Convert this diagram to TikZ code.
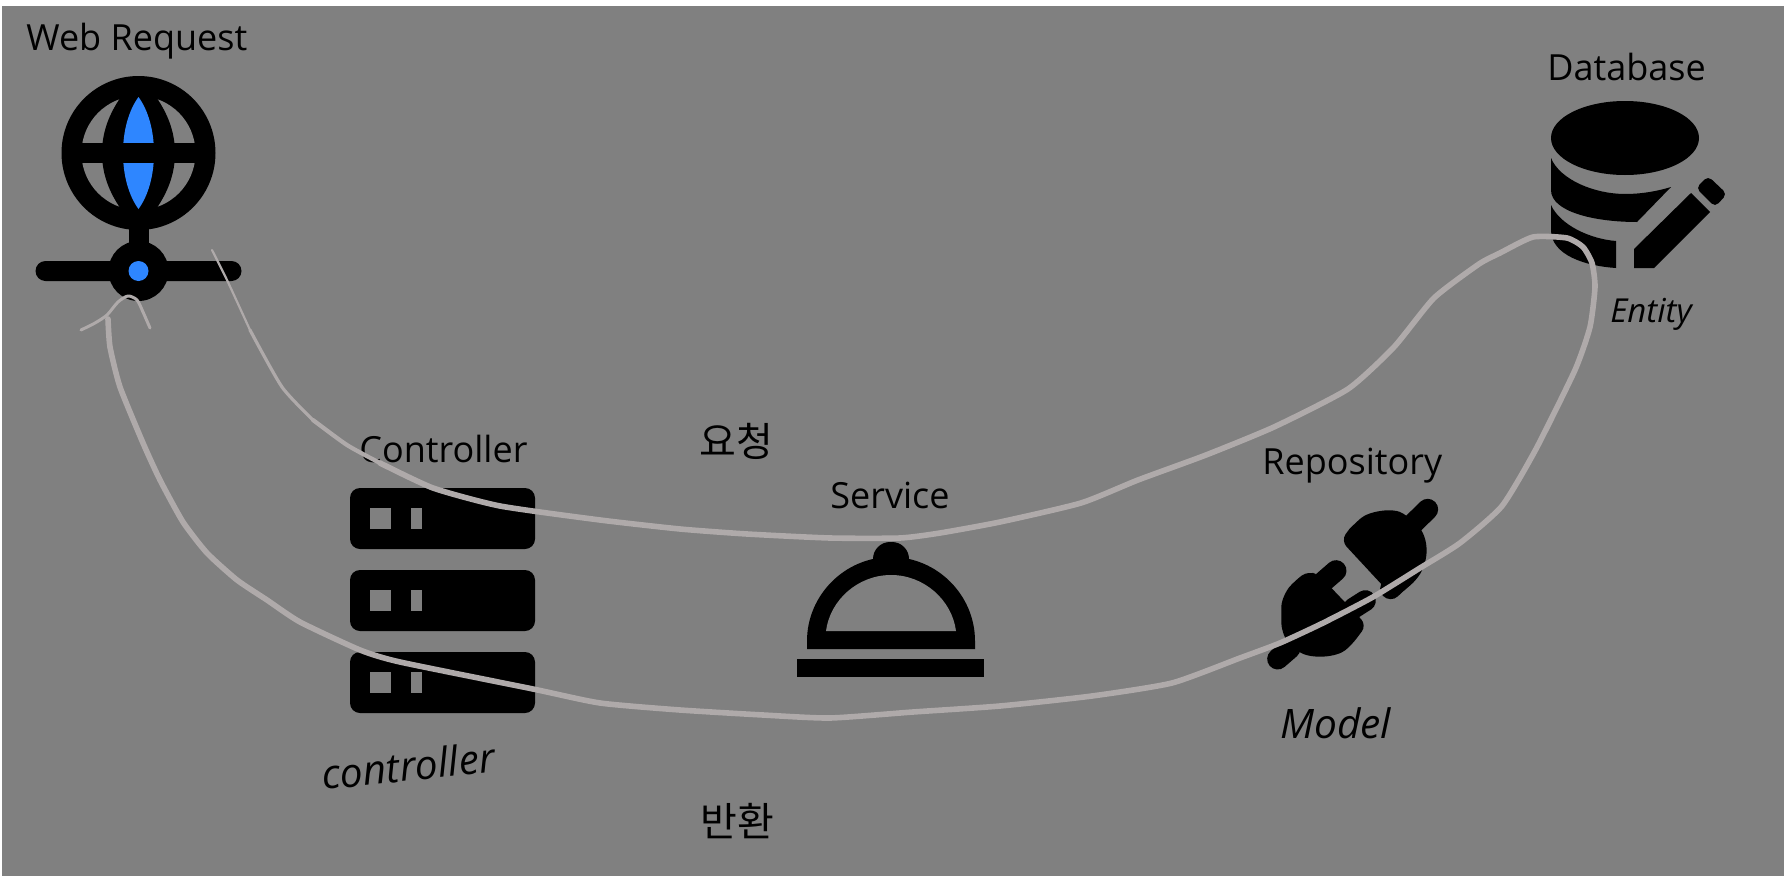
\documentclass[tikz,border=0pt]{standalone}
\usepackage{fontspec}
\setmainfont{Open Sans}
\newfontfamily\krfont{Noto Sans CJK KR}
\tikzset{
 x=0.5pt,y=-0.5pt,
 title/.style={anchor=base west,inner sep=0pt,text=black,font=\fontsize{18pt}{20pt}\selectfont},
 hand/.style={anchor=base west,inner sep=0pt,text=black},
 ink/.style={draw=strokegray,line cap=round,line join=round},
 icon/.style={fill=black},
 cord/.style={draw=black,line width=10.5pt,line cap=round},
}
\definecolor{bggray}{HTML}{808080}
\definecolor{strokegray}{HTML}{AFAAAA}
\definecolor{globeblue}{HTML}{2E86FF}
\begin{document}
\begin{tikzpicture}
\useasboundingbox (0,0) rectangle (1784,878);
\fill[white] (0,0) rectangle (1784,878);
\fill[bggray] (2,6) rectangle (1784,876);
% globe
\fill[icon] (138.5,153) circle[radius=77];
\fill[bggray] (138.5,153) circle[radius=57];
\fill[icon] (138.5,76) .. controls (115,100) and (102,125) .. (102,153) .. controls (102,181) and (115,206) .. (138.5,230) .. controls (162,206) and (175,181) .. (175,153) .. controls (175,125) and (162,100) .. (138.5,76) -- cycle;
\fill[globeblue] (138.5,97) .. controls (129,110) and (123,130) .. (123,153) .. controls (123,176) and (129,196) .. (138.5,209) .. controls (148,196) and (154,176) .. (154,153) .. controls (154,130) and (148,110) .. (138.5,97) -- cycle;
\fill[icon] (70,143) rectangle (207,163);
\fill[icon] (128.5,225) rectangle (148.5,250);
\fill[icon,rounded corners=5pt] (35.5,261) rectangle (241.5,281);
\fill[icon] (138.5,271) circle[radius=30];
\fill[globeblue] (138.5,271) circle[radius=10];
\node[title] (web) at (26,50) {Web Request};
% database
\node[title] (db) at (1547,80) {Database};
\fill[icon] (1625,138) ellipse[x radius=74,y radius=37];
\fill[icon] (1551,158) .. controls (1560,180) and (1595,194) .. (1625,194) .. controls (1642,194) and (1658,191) .. (1671,187) -- (1637,222) .. controls (1595,222) and (1551,212) .. (1551,190) -- cycle;
\fill[icon] (1551,205) .. controls (1560,225) and (1590,239) .. (1616,241) -- (1616,268) .. controls (1585,266) and (1551,255) .. (1551,230) -- cycle;
\fill[icon] (1634,249) -- (1691,193) -- (1710,212) -- (1654,268) -- (1634,268) -- cycle;
\fill[icon,rounded corners=2.5pt] (1708,176) -- (1727,194) -- (1715,207) -- (1696,188) -- cycle;
% server
\foreach \t in {488,570,652}{
 \fill[icon,rounded corners=5pt] (350,\t) rectangle (535,\t+61);
 \fill[bggray] (370,\t+20) rectangle (391,\t+41);
 \fill[bggray] (411,\t+20) rectangle (422,\t+41);
}
\node[title] (ctrl) at (359,462) {Controller};
% service
\node[title] (svc) at (830,508) {Service};
\fill[icon,rounded corners=8.5pt] (873,590) -- (873,542) -- (909,542) -- (909,590) -- cycle;
\fill[icon] (807,649) -- (807,641) .. controls (807,595) and (845,557) .. (891,557) .. controls (937,557) and (975,595) .. (975,641) -- (975,649) -- cycle;
\fill[bggray] (826,631) .. controls (830,600) and (858,575) .. (891,575) .. controls (924,575) and (952,600) .. (956,631) -- cycle;
\fill[icon] (797,659) rectangle (984,677);
% plug
\node[title] (repo) at (1262,474) {Repository};
\begin{scope}[shift={(1240,440)},x=0.5pt/3,y=-0.5pt/3]
\draw[cord] (505,265) -- (563,208);
\draw[cord] (250,425) -- (288,392);
\draw[cord] (340,505) -- (376,482);
\draw[cord] (150,625) -- (113,657);
\draw[cord] (490,410) -- (452,446);
\fill[icon,rounded corners=4pt] (303,302) .. controls (315,285) and (330,265) .. (345,250) .. controls (385,215) and (460,200) .. (510,235) .. controls (565,285) and (570,350) .. (530,420) -- (470,470) -- (445,455) -- cycle;
\fill[icon,rounded corners=4pt] (124,525) .. controls (124,480) and (140,450) .. (165,422) -- (205,392) -- (240,408) -- (380,555) -- (335,615) .. controls (290,652) and (215,658) .. (160,625) .. controls (130,590) and (124,560) .. (124,525) -- cycle;
\end{scope}
% handwriting
\node[hand,rotate=6,font=\itshape\fontsize{20.3pt}{22pt}\selectfont] (h1) at (323,790) {controller};
\node[hand,font=\itshape\fontsize{16.5pt}{18pt}\selectfont] (h2) at (1610,322) {Entity};
\node[hand,font=\itshape\fontsize{20.3pt}{22pt}\selectfont] (h3) at (1280,738) {Model};
\node[hand,font=\krfont\fontsize{20pt}{22pt}\selectfont] (h4) at (699,456) {요청};
\node[hand,font=\krfont\fontsize{20pt}{22pt}\selectfont] (h5) at (700,836) {반환};
% strokes
\draw[ink,line width=1.1pt] plot[smooth,tension=0.4] coordinates {(212,250) (227,280) (250,330)};
\draw[ink,line width=1.6pt] plot[smooth,tension=0.4] coordinates {(250,330) (282,387) (313,420)};
\draw[ink,line width=2.1pt] plot[smooth,tension=0.4] coordinates {(313,420) (347,445) (380,463)};
\draw[ink,line width=2.8pt] plot[smooth,tension=0.35] coordinates {(380,463) (433,488) (500,506) (600,520) (680,529) (747,534) (830,538) (900,538) (940,533) (1000,522) (1081,503) (1138,480) (1206,455) (1274,427) (1348,389) (1394,347) (1434,298) (1479,264) (1500,253) (1533,237) (1567,238) (1583,247) (1592,263) (1595,287) (1590,327) (1575,370) (1536,449) (1502,506) (1460,543) (1420,568) (1373,597) (1323,623) (1280,643) (1240,658) (1172,683) (1092,696) (1000,706) (913,712) (830,718) (763,715) (680,710) (600,703) (533,689) (400,662) (360,650) (300,622) (267,600) (237,580) (207,553) (183,522) (160,480) (143,443) (120,387) (110,347) (108,319)};
\draw[ink,line width=1.5pt] plot[smooth,tension=0.45] coordinates {(81,330) (95,323) (107,315) (118,302) (128,296) (137,300) (143,312) (150,328)};
\end{tikzpicture}
\end{document}
